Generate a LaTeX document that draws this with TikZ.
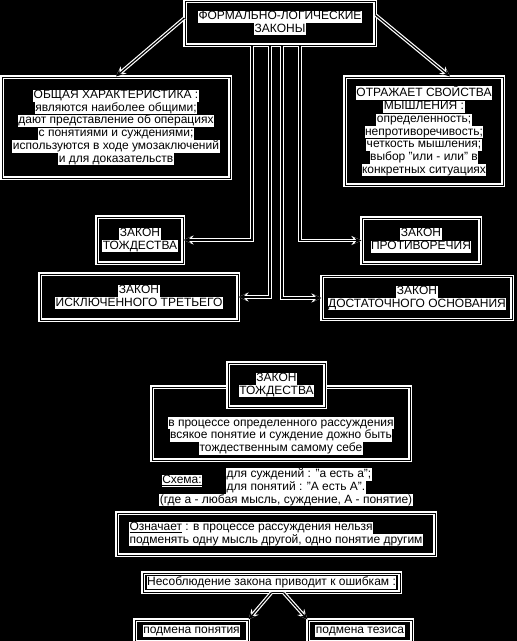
\documentclass[tikz,border=0pt]{standalone}
\usepackage{fontspec}
\setmainfont{Liberation Sans}
\usetikzlibrary{positioning,arrows.meta}
\setlength{\fboxsep}{0.5pt}
\newcommand{\wl}[1]{\colorbox{white}{\rule[-2.7pt]{0pt}{10.9pt}#1}}

\begin{document}
\begin{tikzpicture}[x=1pt, y=-1pt,
  every node/.style={font=\fontsize{12}{12.7}\selectfont, inner sep=1pt, align=center},
  frame/.style={draw=white, double=black, line width=1.1pt, double distance=0.9pt, fill=black},
  wire/.style={black, line width=1.2pt,
    preaction={draw=white, line width=3.6pt, -{Stealth[length=10pt, width=9pt]}}},
  arr/.style={wire, -{Stealth[length=7pt, width=6pt]}}
]
  \useasboundingbox (0,0) rectangle (517,641);
  \fill[black] (0,0) rectangle (517,641);

  % Top
  \node[frame, minimum width=190pt, minimum height=44pt] (laws) at (280,23)
    {\wl{ФОРМАЛЬНО-ЛОГИЧЕСКИЕ}\\\wl{ЗАКОНЫ}};

  % Characteristics
  \node[frame, minimum width=228pt, minimum height=101pt] (general) at (116,127.5)
    {\wl{ОБЩАЯ ХАРАКТЕРИСТИКА :}\\\wl{являются наиболее общими;}\\
     \wl{дают представление об операциях}\\\wl{с понятиями и суждениями;}\\
     \wl{используются в ходе умозаключений}\\\wl{и для доказательств}};
  \node[frame, minimum width=158pt, minimum height=108pt] (props) at (424,131)
    {\wl{ОТРАЖАЕТ СВОЙСТВА}\\\wl{МЫШЛЕНИЯ :}\\\wl{определенность;}\\
     \wl{непротиворечивость;}\\\wl{четкость мышления;}\\
     \wl{выбор "или - или" в}\\\wl{конкретных ситуациях}};

  % Laws
  \node[frame, minimum width=86pt, minimum height=46pt] (identity) at (140,240)
    {\wl{ЗАКОН}\\\wl{ТОЖДЕСТВА}};
  \node[frame, minimum width=118pt, minimum height=45pt] (contra) at (421,240.5)
    {\wl{ЗАКОН}\\\wl{ПРОТИВОРЕЧИЯ}};
  \node[frame, minimum width=198pt, minimum height=46pt] (middle) at (139,297)
    {\wl{ЗАКОН}\\\wl{ИСКЛЮЧЕННОГО ТРЕТЬЕГО}};
  \node[frame, minimum width=190pt, minimum height=43pt] (reason) at (417,298)
    {\wl{ЗАКОН}\\\wl{ДОСТАТОЧНОГО ОСНОВАНИЯ}};

  % Connectors
  \draw[arr] ([yshift=5pt]laws.west) -- (general.north);
  \draw[arr] ([yshift=8pt]laws.east) -- ([xshift=26pt]props.north);
  \draw[arr] ([xshift=-28pt]laws.south) |- (identity.east);
  \draw[arr] ([xshift=20pt]laws.south) |- (contra.west);
  \draw[arr] ([xshift=-10pt]laws.south) |- (middle.east);
  \draw[arr] ([xshift=2pt]laws.south) |- (reason.west);

  % Law of identity
  \node[frame, minimum width=258pt, minimum height=73pt] (idbox) at (281,423.5) {};
  \node (idtext) at (281,436)
    {\wl{в процессе определенного рассуждения}\\
     \wl{всякое понятие и суждение дожно быть}\\\wl{тождественным самому себе}};
  \node[frame, minimum width=97pt, minimum height=44pt] (idtitle) at (276.5,385)
    {\wl{ЗАКОН}\\\wl{ТОЖДЕСТВА}};

  % Scheme
  \node (scheme) at (182,481) {\wl{\underline{Схема:}}};
  \node[anchor=west, align=left] (schemeA) at (225,481)
    {\wl{для суждений : "а есть а";}\\\wl{для понятий : "А есть А".}};
  \node (schemeB) at (286,500) {\wl{(где а - любая мысль, суждение, А - понятие)}};

  % Meaning
  \node[frame, minimum width=318pt, minimum height=42pt, align=left] (means) at (276,534)
    {\wl{\underline{Означает} : в процессе рассуждения нельзя}\\
     \wl{подменять одну мысль другой, одно понятие другим}};

  % Errors
  \node[frame, minimum width=257pt, minimum height=19pt] (errors) at (271.5,582.5)
    {\wl{Несоблюдение закона приводит к ошибкам :}};
  \node[frame, minimum width=113pt, minimum height=22pt] (swapA) at (191.5,631)
    {\wl{подмена понятия}};
  \node[frame, minimum width=104pt, minimum height=22pt] (swapB) at (360,631)
    {\wl{подмена тезиса}};
  \draw[arr] (errors.south) -- (swapA.north east);
  \draw[arr] ([xshift=12pt]errors.south) -- (swapB.north west);
\end{tikzpicture}
\end{document}
